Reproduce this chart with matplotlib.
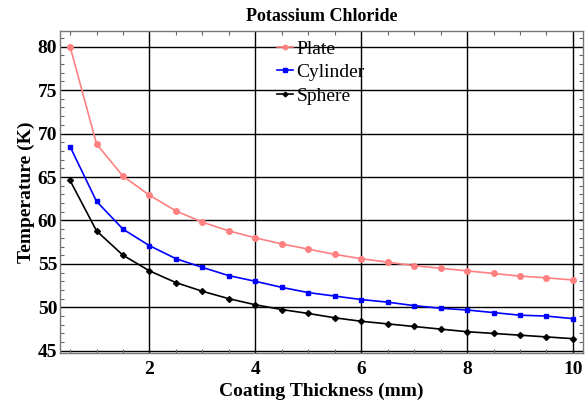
import matplotlib
matplotlib.use("Agg")
import matplotlib.pyplot as plt
from matplotlib.ticker import MultipleLocator

# --- Data ---
thickness = [0.5, 1.0, 1.5, 2.0, 2.5, 3.0, 3.5, 4.0, 4.5, 5.0,
             5.5, 6.0, 6.5, 7.0, 7.5, 8.0, 8.5, 9.0, 9.5, 10.0]

plate = [80.0, 68.8, 65.1, 62.9, 61.1, 59.8, 58.8, 58.0, 57.3, 56.7,
         56.1, 55.6, 55.2, 54.8, 54.5, 54.2, 53.9, 53.6, 53.4, 53.15]

cylinder = [68.5, 62.2, 59.0, 57.1, 55.6, 54.6, 53.65, 53.0, 52.3, 51.7,
            51.3, 50.9, 50.6, 50.2, 49.9, 49.7, 49.4, 49.1, 49.0, 48.7]

sphere = [64.6, 58.8, 56.0, 54.2, 52.85, 51.85, 51.0, 50.3, 49.75, 49.3,
          48.8, 48.4, 48.1, 47.8, 47.5, 47.2, 47.0, 46.8, 46.6, 46.4]

series_names = ["Plate", "Cylinder", "Sphere"]
x_ticks = [2, 4, 6, 8, 10]
y_ticks = [45, 50, 55, 60, 65, 70, 75, 80]

plt.rcParams['font.family'] = ['Liberation Serif', 'DejaVu Serif']

fig = plt.figure(figsize=(5.86, 4.04), dpi=100)
ax = fig.add_axes([60 / 586, 51 / 404, 523 / 586, 322 / 404])

# Grid lines behind the data
for xv in x_ticks:
    ax.axvline(xv, color="black", lw=1.0, zorder=1)
for yv in y_ticks:
    ax.axhline(yv, color="black", lw=1.0, zorder=1)

ax.plot(thickness, plate, color="#ff8080", lw=1.2, marker="o", ms=4,
        label=series_names[0], zorder=3)
ax.plot(thickness, cylinder, color="#0000ff", lw=1.2, marker="s", ms=3.5,
        label=series_names[1], zorder=3)
ax.plot(thickness, sphere, color="black", lw=1.2, marker="D", ms=3,
        label=series_names[2], zorder=3)

ax.set_xlim(0.31, 10.19)
ax.set_ylim(44.75, 81.8)
ax.set_xticks(x_ticks)
ax.set_yticks(y_ticks)
ax.xaxis.set_minor_locator(MultipleLocator(0.5))
ax.yaxis.set_minor_locator(MultipleLocator(1))

ax.tick_params(which="both", direction="in", top=True, right=True,
               labeltop=False, labelright=False, color="#666666")
ax.tick_params(which="major", length=0, labelsize=14)
ax.tick_params(axis="x", which="major", pad=6)
ax.tick_params(axis="y", which="major", pad=2)
ax.tick_params(which="minor", length=3, width=0.8)
for lab in ax.get_xticklabels() + ax.get_yticklabels():
    lab.set_fontweight("bold")

for spine in ax.spines.values():
    spine.set_color("#777777")
    spine.set_linewidth(1.0)

ax.set_title("Potassium Chloride", fontsize=13, fontweight="bold", pad=7)
ax.set_xlabel("Coating Thickness (mm)", fontsize=14, fontweight="bold", labelpad=3)
ax.set_ylabel("Temperature (K)", fontsize=14, fontweight="bold", labelpad=2)

leg = ax.legend(loc="upper left", bbox_to_anchor=(0.382, 1.026), frameon=False,
                fontsize=14, handlelength=0.8, handletextpad=0.2,
                labelspacing=0.3, markerscale=0.8)

fig.savefig("out.png", dpi=100)
